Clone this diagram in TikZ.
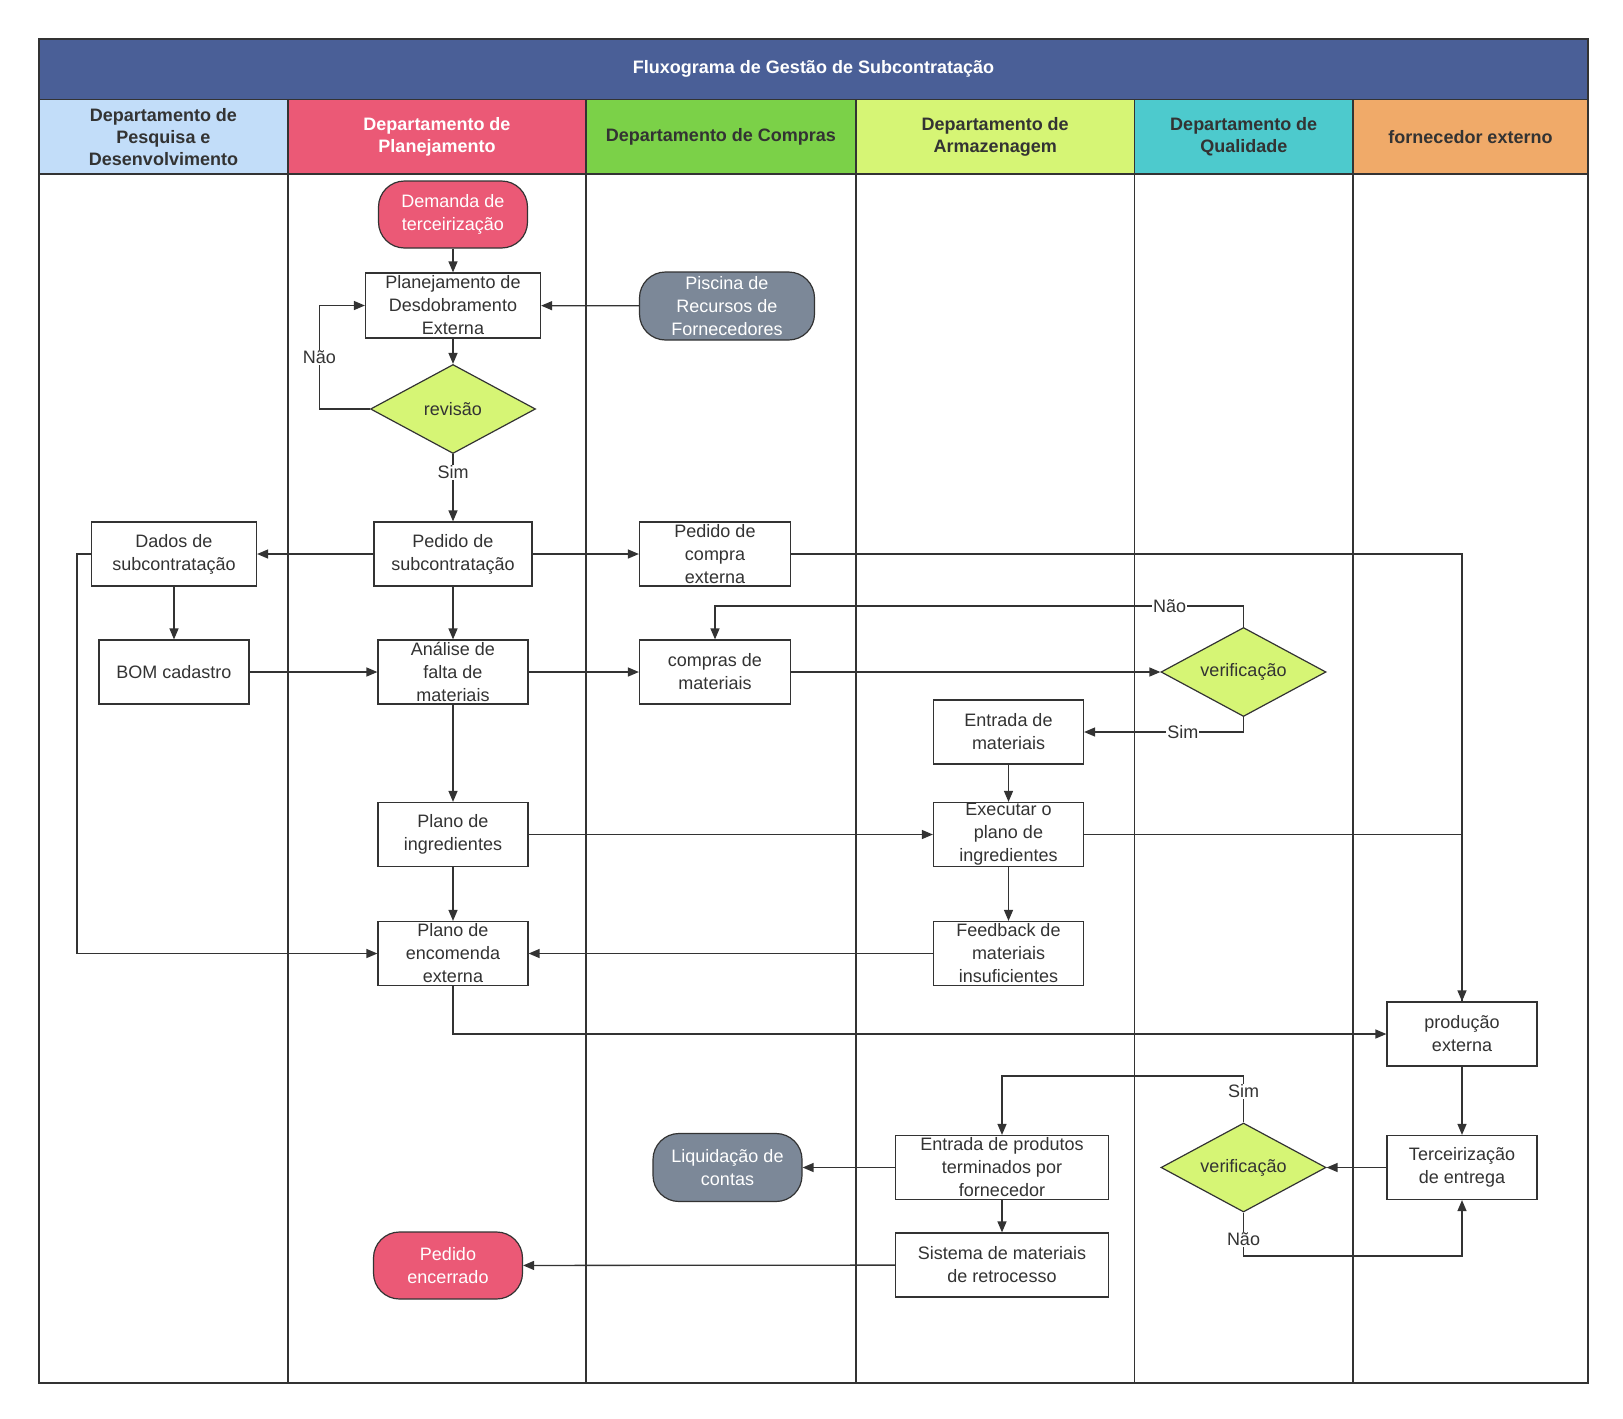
\documentclass[tikz,border=0pt]{standalone}
\usepackage{fontspec}
\setmainfont{Liberation Sans}
\usetikzlibrary{positioning, arrows.meta, shapes.geometric}

\definecolor{titleblue}{HTML}{4A5F97}
\definecolor{rdblue}{HTML}{C2DDF9}
\definecolor{planred}{HTML}{EB5976}
\definecolor{buygreen}{HTML}{7BD148}
\definecolor{storelime}{HTML}{D6F575}
\definecolor{qualcyan}{HTML}{4DCACD}
\definecolor{suporange}{HTML}{F0AA69}
\definecolor{poolgray}{HTML}{7C8898}
\definecolor{linegray}{HTML}{333333}

\begin{document}
\begin{tikzpicture}[
    x=1pt, y=-1pt,
    font=\fontsize{18}{23}\selectfont,
    header/.style = {rectangle, draw=linegray, line width=1.3pt, align=center, minimum height=74.5, inner sep=0pt, font=\fontsize{18}{22}\selectfont\bfseries, text=linegray},
    process/.style = {rectangle, draw=linegray, fill=white, line width=1.2pt, align=center, minimum width=150, minimum height=64, inner sep=0pt, text=linegray},
    terminal/.style = {rectangle, rounded corners=26, draw=linegray, line width=1.2pt, align=center, minimum width=149, minimum height=67, inner sep=0pt, text=white},
    decision/.style = {diamond, aspect=1.85, draw=linegray, fill=storelime, line width=1.2pt, align=center, minimum width=165, minimum height=89, inner sep=0pt, text=linegray},
    answer/.style = {fill=white, inner sep=1pt, text=linegray},
    arrow/.style = {-{Triangle[length=11pt, width=9pt]}, line width=1.3pt, draw=linegray},
    link/.style = {line width=1.3pt, draw=linegray}
]

\useasboundingbox (0,0) rectangle (1623,1419);

% Pool frame and lanes
\node[header, fill=titleblue, text=white, minimum width=1549, minimum height=60.5] (title) at (813.5,69.25) {Fluxograma de Gestão de Subcontratação};
\node[header, fill=rdblue, minimum width=249] (lane_pd) at (163.5,136.75) {Departamento de\\Pesquisa e\\Desenvolvimento};
\node[header, fill=planred, text=white, minimum width=298] (lane_plan) at (437,136.75) {Departamento de\\Planejamento};
\node[header, fill=buygreen, minimum width=270] (lane_compras) at (721,136.75) {Departamento de Compras};
\node[header, fill=storelime, minimum width=278.5] (lane_armaz) at (995.25,136.75) {Departamento de\\Armazenagem};
\node[header, fill=qualcyan, minimum width=218.5] (lane_qual) at (1243.75,136.75) {Departamento de\\Qualidade};
\node[header, fill=suporange, minimum width=235] (lane_forn) at (1470.5,136.75) {fornecedor externo};

\draw[link] (39,174) rectangle (1588,1383);
\foreach \x in {288,586,856,1134.5,1353}
    \draw[link] (\x,174) -- (\x,1383);

% Nodes of the planning column
\node[terminal, fill=planred] (demanda) at (453,214.5) {Demanda de\\terceirização};
\node[process, minimum width=175, minimum height=65] (plan_desdobr) at (453,305.5) {Planejamento de\\Desdobramento\\Externa};
\node[decision] (revisao) at (453,409) {revisão};
\node[process, minimum width=158] (pedido_sub) at (453,554) {Pedido de\\subcontratação};
\node[process] (analise) at (453,672) {Análise de\\falta de\\materiais};
\node[process] (plano_ingr) at (453,834.5) {Plano de\\ingredientes};
\node[process] (plano_enc) at (453,953.5) {Plano de\\encomenda\\externa};
\node[terminal, fill=planred] (encerrado) at (448,1265.5) {Pedido\\encerrado};

% R&D and purchasing
\node[process, minimum width=165] (dados_sub) at (174,554) {Dados de\\subcontratação};
\node[process] (bom) at (174,672) {BOM cadastro};
\node[terminal, fill=poolgray, minimum width=175, minimum height=68] (piscina) at (727,306) {Piscina de\\Recursos de\\Fornecedores};
\node[process, minimum width=151] (pedido_compra) at (715,554) {Pedido de\\compra\\externa};
\node[process, minimum width=151] (compras_mat) at (715,672) {compras de\\materiais};
\node[terminal, fill=poolgray, minimum height=68] (liquidacao) at (727.5,1167.5) {Liquidação de\\contas};

% Warehouse and quality
\node[process] (entrada_mat) at (1008.5,732) {Entrada de\\materiais};
\node[process] (executar) at (1008.5,834.5) {Executar o\\plano de\\ingredientes};
\node[process] (feedback) at (1008.5,953.5) {Feedback de\\materiais\\insuficientes};
\node[process, minimum width=213] (entrada_prod) at (1002,1167.5) {Entrada de produtos\\terminados por\\fornecedor};
\node[process, minimum width=213] (sistema) at (1002,1265) {Sistema de materiais\\de retrocesso};
\node[decision] (verif_mat) at (1243.5,672) {verificação};
\node[decision] (verif_prod) at (1243.5,1167.5) {verificação};

% External supplier
\node[process] (producao) at (1462,1034) {produção\\externa};
\node[process] (terc_entrega) at (1462,1167.5) {Terceirização\\de entrega};

% Arrows
\draw[arrow] (demanda) -- (plan_desdobr);
\draw[arrow] (piscina) -- (plan_desdobr);
\draw[arrow] (plan_desdobr) -- (revisao);
\draw[arrow] (revisao.west) -- ++(-50.5,0) |- node[answer, pos=0.25] {Não} (plan_desdobr.west);
\draw[arrow] (revisao) -- node[answer, pos=0.27] {Sim} (pedido_sub);
\draw[arrow] (pedido_sub) -- (dados_sub);
\draw[arrow] (pedido_sub) -- (pedido_compra);
\draw[arrow] (pedido_sub) -- (analise);
\draw[arrow] (dados_sub) -- (bom);
\draw[arrow] (dados_sub.west) -- ++(-14,0) |- (plano_enc.west);
\draw[arrow] (bom) -- (analise);
\draw[arrow] (analise) -- (compras_mat);
\draw[arrow] (analise) -- (plano_ingr);
\draw[arrow] (pedido_compra) -| (producao);
\draw[arrow] (compras_mat) -- (verif_mat);
\draw[arrow] (verif_mat.north) -- ++(0,-21) -| node[answer, pos=0.07] {Não} (compras_mat.north);
\draw[arrow] (verif_mat.south) |- node[answer, pos=0.69] {Sim} (entrada_mat);
\draw[arrow] (entrada_mat) -- (executar);
\draw[arrow] (plano_ingr) -- (executar);
\draw[arrow] (executar) -- (feedback);
\draw[link] (executar) -| (producao);
\draw[arrow] (plano_ingr) -- (plano_enc);
\draw[arrow] (feedback) -- (plano_enc);
\draw[arrow] (plano_enc) |- (producao);
\draw[arrow] (producao) -- (terc_entrega);
\draw[arrow] (terc_entrega) -- (verif_prod);
\draw[arrow] (verif_prod.north) -- node[answer, pos=0.67] {Sim} ++(0,-46.5) -| (entrada_prod);
\draw[arrow] (verif_prod.south) -- node[answer, pos=0.62] {Não} ++(0,43.5) -| (terc_entrega);
\draw[arrow] (entrada_prod) -- (liquidacao);
\draw[arrow] (entrada_prod) -- (sistema);
\draw[arrow] (sistema) -- (encerrado);

\end{tikzpicture}
\end{document}
